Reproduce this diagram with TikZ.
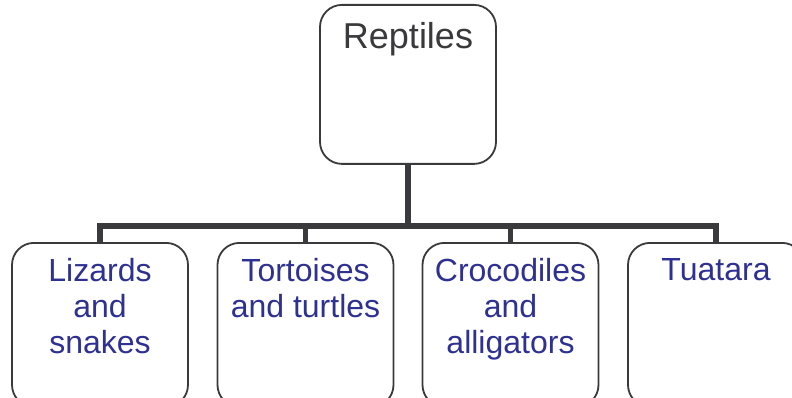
\documentclass[tikz,border=0pt]{standalone}
\usepackage{fontspec}
\setmainfont{Liberation Sans}
\usetikzlibrary{calc}
\definecolor{edge}{HTML}{3A3A3C}
\definecolor{itemblue}{HTML}{2E3192}
\begin{document}
\begin{tikzpicture}[x=1pt,y=-1pt,
  box/.style={draw=edge, line width=1.8pt, rounded corners=22pt, fill=white,
    minimum width=176pt, inner sep=0pt, anchor=north},
  leaf/.style={box, minimum height=164pt},
  conn/.style={draw=edge, line width=5.5pt, line join=miter},
  lbl/.style={font=\fontsize{32}{36}\selectfont, text=itemblue, align=center,
    anchor=north, inner sep=0pt},
  rootlbl/.style={font=\fontsize{36}{40}\selectfont, text=edge, anchor=north, inner sep=0pt}]
\useasboundingbox (0,0) rectangle (792,398);
\clip (0,0) rectangle (792,398);

% root box
\node[box, minimum height=159pt] (top) at (408,4) {};
\node[rootlbl] (toptext) at ($(top.north)+(0,18.5)$) {Reptiles};

% four groups
\node[leaf] (b1) at (100,242) {};
\node[leaf] (b2) at (305.5,242) {};
\node[leaf] (b3) at (510.5,242) {};
\node[leaf] (b4) at (716,242) {};

\node[lbl] (t1) at ($(b1.north)+(0,16)$) {Lizards\\and\\snakes};
\node[lbl] (t2) at ($(b2.north)+(0,16)$) {Tortoises\\and turtles};
\node[lbl] (t3) at ($(b3.north)+(0,16)$) {Crocodiles\\and\\alligators};
\node[lbl] (t4) at ($(b4.north)+(0,16)$) {Tuatara};

% tree connectors
\coordinate (bar) at (408,226);
\draw[conn] (top.south) -- (bar);
\draw[conn] (b1.north) |- (bar) -| (b4.north);
\draw[conn] (b2.north) -- (b2.north |- bar);
\draw[conn] (b3.north) -- (b3.north |- bar);
\end{tikzpicture}
\end{document}
